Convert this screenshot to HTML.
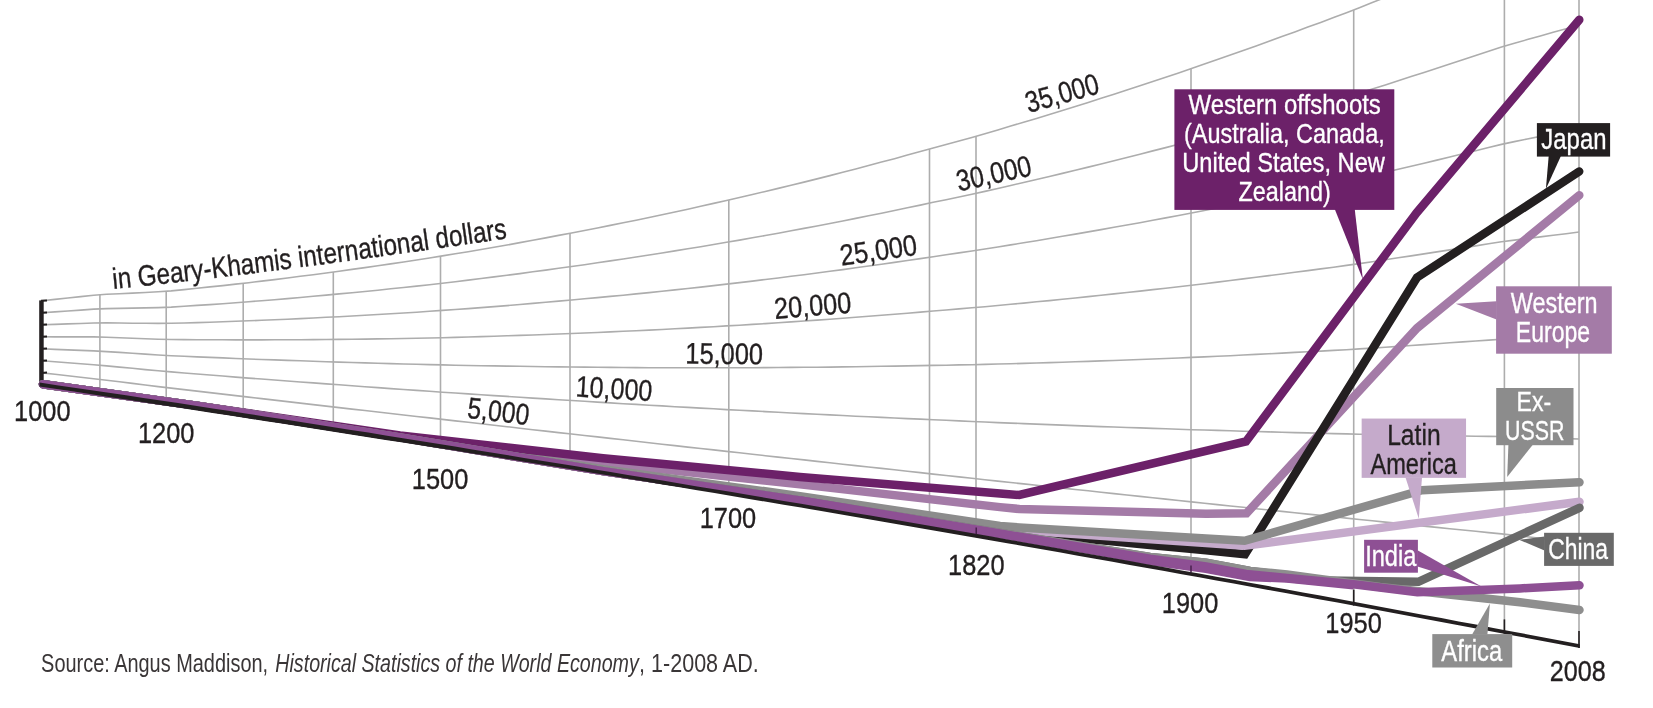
<!DOCTYPE html><html><head><meta charset="utf-8"><title>chart</title>
<style>html,body{margin:0;padding:0;background:#fff}svg{display:block;will-change:transform}text{font-family:"Liberation Sans",sans-serif}</style></head><body>
<svg width="1653" height="708" viewBox="0 0 1653 708">
<rect width="1653" height="708" fill="#fff"/>
<g fill="none" stroke="#ADADAD" stroke-width="1.6">
<polyline points="42.0,372.9 54.9,374.3 67.8,375.8 80.7,377.2 93.7,378.7 106.6,380.2 119.5,381.8 132.4,383.4 145.3,385.0 158.2,386.6 171.2,388.1 184.1,389.6 197.0,391.1 209.9,392.6 222.8,394.1 235.7,395.6 248.7,397.1 261.6,398.6 274.5,400.1 287.4,401.6 300.3,403.1 313.2,404.6 326.2,406.1 339.1,407.6 352.0,409.1 364.9,410.5 377.8,412.0 390.7,413.5 403.6,415.0 416.6,416.5 429.5,417.9 442.4,419.4 455.3,420.9 468.2,422.3 481.1,423.8 494.1,425.3 507.0,426.7 519.9,428.2 532.8,429.7 545.7,431.1 558.6,432.6 571.6,434.0 584.5,435.5 597.4,436.9 610.3,438.4 623.2,439.8 636.1,441.3 649.1,442.7 662.0,444.2 674.9,445.6 687.8,447.1 700.7,448.5 713.6,449.9 726.5,451.4 739.5,452.8 752.4,454.2 765.3,455.7 778.2,457.1 791.1,458.5 804.0,459.9 817.0,461.4 829.9,462.8 842.8,464.2 855.7,465.6 868.6,467.0 881.5,468.4 894.5,469.8 907.4,471.2 920.3,472.6 933.2,474.1 946.1,475.5 959.0,476.9 971.9,478.3 984.9,479.7 997.8,481.1 1010.7,482.5 1023.6,483.9 1036.5,485.3 1049.4,486.7 1062.4,488.1 1075.3,489.5 1088.2,490.8 1101.1,492.2 1114.0,493.6 1126.9,495.0 1139.9,496.4 1152.8,497.7 1165.7,499.1 1178.6,500.5 1191.5,501.9 1204.4,503.2 1217.4,504.6 1230.3,506.0 1243.2,507.3 1256.1,508.7 1269.0,510.0 1281.9,511.4 1294.8,512.7 1307.8,514.1 1320.7,515.4 1333.6,516.8 1346.5,518.1 1359.4,519.5 1372.3,520.8 1385.3,522.1 1398.2,523.4 1411.1,524.7 1424.0,526.1 1436.9,527.4 1449.8,528.7 1462.8,530.0 1475.7,531.3 1488.6,532.6 1501.5,533.9 1514.4,535.4 1527.3,536.8 1540.3,538.2 1553.2,539.7 1566.1,541.1 1579.0,542.6"/>
<polyline points="42.0,360.8 54.9,361.8 67.8,362.8 80.7,363.8 93.7,364.8 106.6,365.9 119.5,367.1 132.4,368.3 145.3,369.6 158.2,370.8 171.2,371.9 184.1,373.0 197.0,374.0 209.9,375.0 222.8,376.0 235.7,377.1 248.7,378.1 261.6,379.0 274.5,380.0 287.4,381.0 300.3,382.0 313.2,382.9 326.2,383.9 339.1,384.8 352.0,385.8 364.9,386.7 377.8,387.6 390.7,388.6 403.6,389.5 416.6,390.4 429.5,391.3 442.4,392.2 455.3,393.0 468.2,393.9 481.1,394.8 494.1,395.6 507.0,396.4 519.9,397.3 532.8,398.1 545.7,398.9 558.6,399.7 571.6,400.5 584.5,401.3 597.4,402.1 610.3,402.9 623.2,403.7 636.1,404.4 649.1,405.2 662.0,405.9 674.9,406.7 687.8,407.4 700.7,408.1 713.6,408.8 726.5,409.6 739.5,410.3 752.4,410.9 765.3,411.6 778.2,412.3 791.1,413.0 804.0,413.6 817.0,414.3 829.9,414.9 842.8,415.5 855.7,416.2 868.6,416.8 881.5,417.4 894.5,418.0 907.4,418.6 920.3,419.1 933.2,419.7 946.1,420.3 959.0,420.9 971.9,421.5 984.9,422.0 997.8,422.6 1010.7,423.1 1023.6,423.6 1036.5,424.1 1049.4,424.6 1062.4,425.1 1075.3,425.6 1088.2,426.1 1101.1,426.6 1114.0,427.0 1126.9,427.5 1139.9,427.9 1152.8,428.4 1165.7,428.8 1178.6,429.2 1191.5,429.7 1204.4,430.0 1217.4,430.4 1230.3,430.8 1243.2,431.2 1256.1,431.5 1269.0,431.9 1281.9,432.2 1294.8,432.6 1307.8,432.9 1320.7,433.3 1333.6,433.6 1346.5,433.9 1359.4,434.2 1372.3,434.4 1385.3,434.7 1398.2,434.9 1411.1,435.1 1424.0,435.3 1436.9,435.5 1449.8,435.8 1462.8,436.0 1475.7,436.2 1488.6,436.4 1501.5,436.5 1514.4,436.9 1527.3,437.4 1540.3,437.8 1553.2,438.2 1566.1,438.6 1579.0,439.0"/>
<polyline points="42.0,348.8 54.9,349.4 67.8,349.9 80.7,350.4 93.7,350.9 106.6,351.6 119.5,352.4 132.4,353.3 145.3,354.1 158.2,355.0 171.2,355.7 184.1,356.3 197.0,356.9 209.9,357.4 222.8,357.9 235.7,358.5 248.7,359.0 261.6,359.5 274.5,359.9 287.4,360.4 300.3,360.8 313.2,361.3 326.2,361.7 339.1,362.1 352.0,362.5 364.9,362.9 377.8,363.3 390.7,363.6 403.6,364.0 416.6,364.3 429.5,364.6 442.4,364.9 455.3,365.2 468.2,365.5 481.1,365.7 494.1,365.9 507.0,366.1 519.9,366.3 532.8,366.5 545.7,366.7 558.6,366.9 571.6,367.0 584.5,367.1 597.4,367.3 610.3,367.4 623.2,367.5 636.1,367.6 649.1,367.7 662.0,367.7 674.9,367.7 687.8,367.8 700.7,367.8 713.6,367.8 726.5,367.7 739.5,367.7 752.4,367.7 765.3,367.6 778.2,367.5 791.1,367.4 804.0,367.3 817.0,367.2 829.9,367.1 842.8,366.9 855.7,366.7 868.6,366.5 881.5,366.3 894.5,366.1 907.4,365.9 920.3,365.6 933.2,365.4 946.1,365.2 959.0,364.9 971.9,364.7 984.9,364.4 997.8,364.0 1010.7,363.7 1023.6,363.4 1036.5,363.0 1049.4,362.6 1062.4,362.2 1075.3,361.8 1088.2,361.4 1101.1,360.9 1114.0,360.5 1126.9,360.0 1139.9,359.5 1152.8,359.0 1165.7,358.5 1178.6,358.0 1191.5,357.4 1204.4,356.9 1217.4,356.3 1230.3,355.7 1243.2,355.0 1256.1,354.4 1269.0,353.8 1281.9,353.1 1294.8,352.4 1307.8,351.8 1320.7,351.1 1333.6,350.4 1346.5,349.7 1359.4,348.9 1372.3,348.1 1385.3,347.2 1398.2,346.4 1411.1,345.5 1424.0,344.6 1436.9,343.7 1449.8,342.8 1462.8,341.9 1475.7,341.0 1488.6,340.1 1501.5,339.2 1514.4,338.5 1527.3,337.9 1540.3,337.3 1553.2,336.7 1566.1,336.1 1579.0,335.5"/>
<polyline points="42.0,336.8 54.9,336.9 67.8,336.9 80.7,336.9 93.7,336.9 106.6,337.2 119.5,337.7 132.4,338.2 145.3,338.7 158.2,339.2 171.2,339.5 184.1,339.6 197.0,339.7 209.9,339.8 222.8,339.8 235.7,339.9 248.7,339.9 261.6,339.9 274.5,339.8 287.4,339.8 300.3,339.7 313.2,339.6 326.2,339.5 339.1,339.4 352.0,339.2 364.9,339.1 377.8,338.9 390.7,338.7 403.6,338.5 416.6,338.2 429.5,338.0 442.4,337.7 455.3,337.4 468.2,337.0 481.1,336.6 494.1,336.3 507.0,335.8 519.9,335.4 532.8,335.0 545.7,334.5 558.6,334.0 571.6,333.5 584.5,333.0 597.4,332.5 610.3,331.9 623.2,331.3 636.1,330.7 649.1,330.1 662.0,329.5 674.9,328.8 687.8,328.1 700.7,327.4 713.6,326.7 726.5,325.9 739.5,325.2 752.4,324.4 765.3,323.6 778.2,322.7 791.1,321.9 804.0,321.0 817.0,320.1 829.9,319.2 842.8,318.2 855.7,317.3 868.6,316.3 881.5,315.3 894.5,314.2 907.4,313.2 920.3,312.1 933.2,311.0 946.1,310.0 959.0,308.9 971.9,307.8 984.9,306.7 997.8,305.5 1010.7,304.3 1023.6,303.1 1036.5,301.8 1049.4,300.6 1062.4,299.3 1075.3,298.0 1088.2,296.6 1101.1,295.3 1114.0,293.9 1126.9,292.5 1139.9,291.1 1152.8,289.6 1165.7,288.2 1178.6,286.7 1191.5,285.2 1204.4,283.7 1217.4,282.1 1230.3,280.5 1243.2,278.9 1256.1,277.3 1269.0,275.6 1281.9,274.0 1294.8,272.3 1307.8,270.6 1320.7,268.9 1333.6,267.2 1346.5,265.4 1359.4,263.6 1372.3,261.7 1385.3,259.8 1398.2,257.8 1411.1,255.9 1424.0,253.9 1436.9,251.9 1449.8,249.9 1462.8,247.9 1475.7,245.9 1488.6,243.8 1501.5,241.8 1514.4,240.1 1527.3,238.5 1540.3,236.9 1553.2,235.3 1566.1,233.7 1579.0,232.0"/>
<polyline points="42.0,324.8 54.9,324.4 67.8,323.9 80.7,323.5 93.7,323.0 106.6,322.9 119.5,323.0 132.4,323.2 145.3,323.3 158.2,323.4 171.2,323.3 184.1,323.0 197.0,322.6 209.9,322.2 222.8,321.8 235.7,321.3 248.7,320.8 261.6,320.3 274.5,319.8 287.4,319.2 300.3,318.6 313.2,318.0 326.2,317.3 339.1,316.7 352.0,316.0 364.9,315.3 377.8,314.5 390.7,313.8 403.6,313.0 416.6,312.2 429.5,311.3 442.4,310.4 455.3,309.5 468.2,308.6 481.1,307.6 494.1,306.6 507.0,305.6 519.9,304.5 532.8,303.4 545.7,302.3 558.6,301.1 571.6,300.0 584.5,298.8 597.4,297.6 610.3,296.4 623.2,295.2 636.1,293.9 649.1,292.6 662.0,291.2 674.9,289.9 687.8,288.5 700.7,287.1 713.6,285.6 726.5,284.1 739.5,282.6 752.4,281.1 765.3,279.5 778.2,278.0 791.1,276.3 804.0,274.7 817.0,273.0 829.9,271.3 842.8,269.6 855.7,267.8 868.6,266.0 881.5,264.2 894.5,262.4 907.4,260.5 920.3,258.6 933.2,256.7 946.1,254.8 959.0,252.9 971.9,251.0 984.9,249.0 997.8,247.0 1010.7,244.9 1023.6,242.8 1036.5,240.7 1049.4,238.5 1062.4,236.3 1075.3,234.1 1088.2,231.9 1101.1,229.6 1114.0,227.3 1126.9,225.0 1139.9,222.7 1152.8,220.3 1165.7,217.9 1178.6,215.5 1191.5,213.0 1204.4,210.5 1217.4,207.9 1230.3,205.4 1243.2,202.8 1256.1,200.2 1269.0,197.5 1281.9,194.8 1294.8,192.2 1307.8,189.4 1320.7,186.7 1333.6,184.0 1346.5,181.2 1359.4,178.3 1372.3,175.3 1385.3,172.3 1398.2,169.3 1411.1,166.2 1424.0,163.2 1436.9,160.1 1449.8,157.0 1462.8,153.8 1475.7,150.7 1488.6,147.5 1501.5,144.4 1514.4,141.6 1527.3,139.0 1540.3,136.4 1553.2,133.8 1566.1,131.2 1579.0,128.5"/>
<polyline points="42.0,312.8 54.9,311.9 67.8,311.0 80.7,310.1 93.7,309.1 106.6,308.6 119.5,308.4 132.4,308.1 145.3,307.9 158.2,307.6 171.2,307.1 184.1,306.3 197.0,305.4 209.9,304.6 222.8,303.7 235.7,302.7 248.7,301.7 261.6,300.7 274.5,299.7 287.4,298.6 300.3,297.5 313.2,296.3 326.2,295.1 339.1,293.9 352.0,292.7 364.9,291.5 377.8,290.2 390.7,288.8 403.6,287.5 416.6,286.1 429.5,284.7 442.4,283.2 455.3,281.7 468.2,280.1 481.1,278.5 494.1,276.9 507.0,275.3 519.9,273.6 532.8,271.8 545.7,270.1 558.6,268.3 571.6,266.5 584.5,264.7 597.4,262.8 610.3,260.9 623.2,259.0 636.1,257.0 649.1,255.0 662.0,253.0 674.9,250.9 687.8,248.8 700.7,246.7 713.6,244.5 726.5,242.3 739.5,240.1 752.4,237.8 765.3,235.5 778.2,233.2 791.1,230.8 804.0,228.4 817.0,226.0 829.9,223.5 842.8,221.0 855.7,218.4 868.6,215.8 881.5,213.2 894.5,210.5 907.4,207.8 920.3,205.1 933.2,202.3 946.1,199.7 959.0,197.0 971.9,194.2 984.9,191.4 997.8,188.5 1010.7,185.5 1023.6,182.5 1036.5,179.5 1049.4,176.5 1062.4,173.4 1075.3,170.3 1088.2,167.1 1101.1,164.0 1114.0,160.7 1126.9,157.5 1139.9,154.2 1152.8,150.9 1165.7,147.6 1178.6,144.2 1191.5,140.8 1204.4,137.3 1217.4,133.8 1230.3,130.2 1243.2,126.6 1256.1,123.0 1269.0,119.4 1281.9,115.7 1294.8,112.0 1307.8,108.3 1320.7,104.5 1333.6,100.8 1346.5,96.9 1359.4,93.0 1372.3,89.0 1385.3,84.9 1398.2,80.7 1411.1,76.6 1424.0,72.4 1436.9,68.2 1449.8,64.0 1462.8,59.8 1475.7,55.5 1488.6,51.3 1501.5,47.0 1514.4,43.2 1527.3,39.6 1540.3,36.0 1553.2,32.3 1566.1,28.7 1579.0,25.0"/>
<polyline points="42.0,300.8 54.9,299.4 67.8,298.0 80.7,296.6 93.7,295.2 106.6,294.2 119.5,293.7 132.4,293.1 145.3,292.5 158.2,291.8 171.2,290.9 184.1,289.6 197.0,288.3 209.9,286.9 222.8,285.6 235.7,284.1 248.7,282.7 261.6,281.1 274.5,279.6 287.4,278.0 300.3,276.3 313.2,274.7 326.2,273.0 339.1,271.2 352.0,269.4 364.9,267.6 377.8,265.8 390.7,263.9 403.6,262.0 416.6,260.0 429.5,258.0 442.4,255.9 455.3,253.8 468.2,251.7 481.1,249.5 494.1,247.2 507.0,245.0 519.9,242.6 532.8,240.3 545.7,237.9 558.6,235.4 571.6,233.0 584.5,230.5 597.4,228.0 610.3,225.4 623.2,222.8 636.1,220.2 649.1,217.5 662.0,214.8 674.9,212.0 687.8,209.2 700.7,206.3 713.6,203.4 726.5,200.5 739.5,197.5 752.4,194.5 765.3,191.5 778.2,188.4 791.1,185.3 804.0,182.1 817.0,178.9 829.9,175.6 842.8,172.3 855.7,169.0 868.6,165.6 881.5,162.1 894.5,158.7 907.4,155.1 920.3,151.6 933.2,148.0 946.1,144.5 959.0,141.0 971.9,137.4 984.9,133.7 997.8,129.9 1010.7,126.1 1023.6,122.3 1036.5,118.4 1049.4,114.4 1062.4,110.5 1075.3,106.4 1088.2,102.4 1101.1,98.3 1114.0,94.2 1126.9,90.0 1139.9,85.8 1152.8,81.5 1165.7,77.3 1178.6,72.9 1191.5,68.6 1204.4,64.1 1217.4,59.6 1230.3,55.1 1243.2,50.5 1256.1,45.9 1269.0,41.3 1281.9,36.6 1294.8,31.9 1307.8,27.1 1320.7,22.4 1333.6,17.5 1346.5,12.7 1359.4,7.7 1372.3,2.6 1385.3,-2.6 1398.2,-7.8 1411.1,-13.0 1424.0,-18.3 1436.9,-23.6 1449.8,-28.9 1462.8,-34.2 1475.7,-39.6 1488.6,-45.0 1501.5,-50.4 1514.4,-55.2 1527.3,-59.8 1540.3,-64.5 1553.2,-69.1 1566.1,-73.8 1579.0,-78.5"/>
<line x1="99.9" y1="294.5" x2="99.9" y2="393.5"/>
<line x1="166.2" y1="291.4" x2="166.2" y2="403.6"/>
<line x1="243.2" y1="283.3" x2="243.2" y2="415.4"/>
<line x1="333.3" y1="272.0" x2="333.3" y2="429.4"/>
<line x1="440.5" y1="256.2" x2="440.5" y2="446.4"/>
<line x1="570.0" y1="233.2" x2="570.0" y2="467.3"/>
<line x1="728.8" y1="200.0" x2="728.8" y2="493.5"/>
<line x1="929.5" y1="149.0" x2="929.5" y2="527.8"/>
<line x1="976.0" y1="136.2" x2="976.0" y2="535.8"/>
<line x1="1191.0" y1="68.8" x2="1191.0" y2="574.0"/>
<line x1="1353.7" y1="10.0" x2="1353.7" y2="603.7"/>
<line x1="1504.4" y1="-5.0" x2="1504.4" y2="631.9"/>
<line x1="1579.0" y1="-5.0" x2="1579.0" y2="646.1"/>
</g>
<line x1="41.45" y1="300.4" x2="41.45" y2="386" stroke="#231F20" stroke-width="4.5"/>
<line x1="41" y1="372.9" x2="47" y2="372.6" stroke="#231F20" stroke-width="2"/>
<line x1="41" y1="360.8" x2="47" y2="360.5" stroke="#231F20" stroke-width="2"/>
<line x1="41" y1="348.8" x2="47" y2="348.5" stroke="#231F20" stroke-width="2"/>
<line x1="41" y1="336.8" x2="47" y2="336.5" stroke="#231F20" stroke-width="2"/>
<line x1="41" y1="324.8" x2="47" y2="324.5" stroke="#231F20" stroke-width="2"/>
<line x1="41" y1="312.8" x2="47" y2="312.5" stroke="#231F20" stroke-width="2"/>
<line x1="41" y1="300.8" x2="47" y2="300.4" stroke="#231F20" stroke-width="2"/>
<polyline points="43.0,384.2 200.0,406.1 400.0,437.4 603.0,462.7 800.0,484.4 1000.0,507.1 1019.3,509.0 1206.0,513.7 1246.6,513.2 1417.0,328.2 1579.3,195.3" fill="none" stroke="#A47BA7" stroke-width="8.5" stroke-linecap="round" stroke-linejoin="miter" stroke-miterlimit="10"/>
<polyline points="43.0,384.2 200.0,406.1 400.0,437.4 603.0,471.1 800.0,500.4 1000.0,531.0 1053.0,535.5 1150.0,545.0 1206.0,550.3 1245.0,554.3 1417.0,277.5 1579.2,171.5" fill="none" stroke="#231F20" stroke-width="8.5" stroke-linecap="round" stroke-linejoin="miter" stroke-miterlimit="10"/>
<polyline points="43.0,384.2 200.0,406.1 400.0,437.4 603.0,471.1 800.0,500.4 1000.0,529.0 1100.0,535.8 1206.0,543.0 1244.5,545.8 1579.5,501.8" fill="none" stroke="#C5AACB" stroke-width="8.5" stroke-linecap="round" stroke-linejoin="miter" stroke-miterlimit="10"/>
<polyline points="43.0,384.2 200.0,406.1 400.0,437.4 603.0,469.2 800.0,496.1 1000.0,526.0 1019.3,527.4 1206.0,538.6 1244.5,540.8 1422.0,490.2 1579.5,482.3" fill="none" stroke="#8C8C8C" stroke-width="8.5" stroke-linecap="round" stroke-linejoin="miter" stroke-miterlimit="10"/>
<polyline points="43.0,384.2 200.0,406.1 400.0,435.5 603.0,458.2 800.0,476.9 1000.0,493.4 1019.3,495.0 1246.0,441.5 1416.5,213.0 1579.3,19.8" fill="none" stroke="#6C2169" stroke-width="8.5" stroke-linecap="round" stroke-linejoin="miter" stroke-miterlimit="10"/>
<polyline points="43.0,384.2 200.0,406.1 400.0,437.4 603.0,471.1 800.0,500.4 1000.0,533.0 1150.0,556.9 1206.0,562.8 1250.0,571.0 1287.0,575.5 1323.5,580.6 1418.4,581.8 1579.5,507.8" fill="none" stroke="#696969" stroke-width="8.5" stroke-linecap="round" stroke-linejoin="miter" stroke-miterlimit="10"/>
<polyline points="43.0,384.2 200.0,406.1 400.0,437.4 603.0,471.1 800.0,500.4 1000.0,533.0 1150.0,556.9 1206.0,562.8 1250.0,571.0 1287.0,574.5 1323.5,579.5 1380.0,587.0 1520.0,602.2 1579.5,610.0" fill="none" stroke="#8E8E8E" stroke-width="8.5" stroke-linecap="round" stroke-linejoin="miter" stroke-miterlimit="10"/>
<polyline points="800.0,500.4 1000.0,534.4 1100.0,551.9 1150.0,561.0 1206.0,568.8 1250.0,577.0 1287.0,578.5 1353.5,585.2" fill="none" stroke="#8E5094" stroke-width="8.5" stroke-linecap="butt" stroke-linejoin="miter" stroke-miterlimit="10"/>
<polyline points="43.0,384.2 200.0,406.1 400.0,437.4 603.0,471.1 800.0,500.4 1000.0,533.5 1100.0,550.2 1150.0,558.6 1206.0,566.4 1246.0,574.0 1287.0,578.0 1353.5,584.3 1417.3,592.3 1520.0,588.4 1579.5,585.3" fill="none" stroke="#8E5094" stroke-width="8.5" stroke-linecap="round" stroke-linejoin="miter" stroke-miterlimit="10"/>
<polygon points="39.5,382.6 56.8,385.2 74.1,387.7 91.4,390.3 108.7,392.8 126.0,395.3 143.3,397.9 160.6,400.5 178.0,403.1 195.3,405.7 212.6,408.4 229.9,411.0 247.2,413.7 264.5,416.4 281.8,419.0 299.1,421.7 316.4,424.4 333.7,427.2 351.0,429.9 368.3,432.6 385.6,435.4 402.9,438.2 420.2,441.0 437.6,443.8 454.9,446.6 472.2,449.5 489.5,452.3 506.8,455.1 524.1,457.9 541.4,460.7 558.7,463.5 576.0,466.3 593.3,469.2 610.6,472.0 627.9,474.9 645.2,477.7 662.5,480.6 679.8,483.5 697.2,486.4 714.5,489.2 731.8,492.1 749.1,495.1 766.4,498.0 783.7,500.9 801.0,503.8 818.3,506.8 835.6,509.7 852.9,512.7 870.2,515.6 887.5,518.6 904.8,521.6 922.1,524.6 939.5,527.6 956.8,530.6 974.1,533.6 991.4,536.6 1008.7,539.7 1026.0,542.7 1043.3,545.7 1060.6,548.8 1077.9,551.9 1095.2,554.9 1112.5,558.0 1129.8,561.1 1147.1,564.2 1164.4,567.3 1181.7,570.4 1199.1,573.5 1216.4,576.7 1233.7,579.8 1251.0,583.0 1268.3,586.1 1285.6,589.3 1302.9,592.5 1320.2,595.6 1337.5,598.8 1354.8,602.0 1372.1,605.2 1389.4,608.4 1406.7,611.7 1424.0,614.9 1441.3,618.1 1458.7,621.4 1476.0,624.6 1493.3,627.9 1510.6,631.2 1527.9,634.4 1545.2,637.7 1562.5,641.0 1579.8,644.3 1579.8,648.1 1562.5,644.8 1545.2,641.5 1527.9,638.2 1510.6,635.0 1493.3,631.7 1476.0,628.4 1458.7,625.2 1441.3,621.9 1424.0,618.7 1406.7,615.5 1389.4,612.2 1372.1,609.0 1354.8,605.8 1337.5,602.6 1320.2,599.4 1302.9,596.3 1285.6,593.1 1268.3,589.9 1251.0,586.8 1233.7,583.6 1216.4,580.5 1199.1,577.3 1181.7,574.2 1164.4,571.1 1147.1,568.0 1129.8,564.9 1112.5,561.8 1095.2,558.7 1077.9,555.7 1060.6,552.6 1043.3,549.5 1026.0,546.5 1008.7,543.5 991.4,540.4 974.1,537.4 956.8,534.4 939.5,531.4 922.1,528.4 904.8,525.4 887.5,522.4 870.2,519.4 852.9,516.5 835.6,513.5 818.3,510.6 801.0,507.6 783.7,504.7 766.4,501.8 749.1,498.9 731.8,495.9 714.5,493.0 697.2,490.2 679.8,487.3 662.5,484.4 645.2,481.5 627.9,478.7 610.6,475.8 593.3,473.0 576.0,470.1 558.7,467.3 541.4,464.5 524.1,461.7 506.8,458.9 489.5,456.1 472.2,453.4 454.9,450.6 437.6,447.9 420.2,445.2 402.9,442.5 385.6,439.9 368.3,437.2 351.0,434.4 333.7,431.7 316.4,429.0 299.1,426.3 281.8,423.6 264.5,421.0 247.2,418.3 229.9,415.6 212.6,413.0 195.3,410.3 178.0,407.6 160.6,405.0 143.3,402.3 126.0,399.6 108.7,397.0 91.4,394.3 74.1,391.6 56.8,389.0 39.5,386.4" fill="#231F20"/>
<line x1="1353.7" y1="605.6" x2="1353.7" y2="589.7" stroke="#231F20" stroke-width="1.6"/>
<line x1="1504.4" y1="633.8" x2="1504.4" y2="619.4" stroke="#231F20" stroke-width="1.6"/>
<line x1="1579.0" y1="648.0" x2="1579.0" y2="631.1" stroke="#231F20" stroke-width="1.6"/>
<line x1="976.2" y1="534.4" x2="976.2" y2="527.4" stroke="#3E1A42" stroke-width="1.3"/>
<line x1="1191.0" y1="572.5" x2="1191.0" y2="565.5" stroke="#3E1A42" stroke-width="1.3"/>
<text x="14.07" y="420.80" font-size="29.8" fill="#231F20" stroke="#231F20" stroke-width="0.35" textLength="56.51" lengthAdjust="spacingAndGlyphs">1000</text>
<text x="137.97" y="442.80" font-size="29.8" fill="#231F20" stroke="#231F20" stroke-width="0.35" textLength="56.51" lengthAdjust="spacingAndGlyphs">1200</text>
<text x="411.77" y="488.50" font-size="29.8" fill="#231F20" stroke="#231F20" stroke-width="0.35" textLength="56.51" lengthAdjust="spacingAndGlyphs">1500</text>
<text x="699.67" y="528.40" font-size="29.8" fill="#231F20" stroke="#231F20" stroke-width="0.35" textLength="56.51" lengthAdjust="spacingAndGlyphs">1700</text>
<text x="948.07" y="574.70" font-size="29.8" fill="#231F20" stroke="#231F20" stroke-width="0.35" textLength="56.51" lengthAdjust="spacingAndGlyphs">1820</text>
<text x="1161.87" y="612.70" font-size="29.8" fill="#231F20" stroke="#231F20" stroke-width="0.35" textLength="56.51" lengthAdjust="spacingAndGlyphs">1900</text>
<text x="1325.27" y="633.20" font-size="29.8" fill="#231F20" stroke="#231F20" stroke-width="0.35" textLength="56.51" lengthAdjust="spacingAndGlyphs">1950</text>
<text x="1549.74" y="680.70" font-size="29.8" fill="#231F20" stroke="#231F20" stroke-width="0.35" textLength="55.95" lengthAdjust="spacingAndGlyphs">2008</text>
<text x="466.61" y="417.90" font-size="29.8" fill="#231F20" stroke="#231F20" stroke-width="0.35" textLength="61.94" lengthAdjust="spacingAndGlyphs" transform="rotate(6.70 467.6 417.9)">5,000</text>
<text x="575.19" y="396.50" font-size="29.8" fill="#231F20" stroke="#231F20" stroke-width="0.35" textLength="76.67" lengthAdjust="spacingAndGlyphs" transform="rotate(3.60 577.1 396.5)">10,000</text>
<text x="685.27" y="363.60" font-size="29.8" fill="#231F20" stroke="#231F20" stroke-width="0.35" textLength="77.71" lengthAdjust="spacingAndGlyphs" transform="rotate(0.60 687.2 363.6)">15,000</text>
<text x="774.94" y="318.90" font-size="29.8" fill="#231F20" stroke="#231F20" stroke-width="0.35" textLength="77.24" lengthAdjust="spacingAndGlyphs" transform="rotate(-4.80 776.2 318.9)">20,000</text>
<text x="841.53" y="265.60" font-size="29.8" fill="#231F20" stroke="#231F20" stroke-width="0.35" textLength="77.55" lengthAdjust="spacingAndGlyphs" transform="rotate(-8.20 842.8 265.6)">25,000</text>
<text x="958.75" y="191.20" font-size="29.8" fill="#231F20" stroke="#231F20" stroke-width="0.35" textLength="76.11" lengthAdjust="spacingAndGlyphs" transform="rotate(-12.30 959.7 191.2)">30,000</text>
<text x="1028.47" y="112.70" font-size="29.8" fill="#231F20" stroke="#231F20" stroke-width="0.35" textLength="75.08" lengthAdjust="spacingAndGlyphs" transform="rotate(-15.50 1029.4 112.7)">35,000</text>
<g font-size="29.5" fill="#231F20" stroke="#231F20" stroke-width="0.35" text-anchor="middle">
<text transform="translate(115.99 288.70) rotate(-5.50) scale(0.8216 1)">i</text>
<text transform="translate(125.38 287.78) rotate(-5.67) scale(0.8216 1)">n</text>
<text transform="translate(148.16 285.44) rotate(-6.03) scale(0.8216 1)">G</text>
<text transform="translate(164.23 283.71) rotate(-6.25) scale(0.8216 1)">e</text>
<text transform="translate(177.63 282.23) rotate(-6.41) scale(0.8216 1)">a</text>
<text transform="translate(188.33 281.01) rotate(-6.53) scale(0.8216 1)">r</text>
<text transform="translate(198.36 279.86) rotate(-6.64) scale(0.8216 1)">y</text>
<text transform="translate(208.39 278.68) rotate(-6.74) scale(0.8216 1)">-</text>
<text transform="translate(220.42 277.25) rotate(-6.85) scale(0.8216 1)">K</text>
<text transform="translate(235.14 275.46) rotate(-6.97) scale(0.8216 1)">h</text>
<text transform="translate(248.52 273.82) rotate(-7.08) scale(0.8216 1)">a</text>
<text transform="translate(265.22 271.72) rotate(-7.20) scale(0.8216 1)">m</text>
<text transform="translate(277.91 270.11) rotate(-7.29) scale(0.8216 1)">i</text>
<text transform="translate(286.59 268.99) rotate(-7.35) scale(0.8216 1)">s</text>
<text transform="translate(301.94 267.00) rotate(-7.44) scale(0.8216 1)">i</text>
<text transform="translate(311.30 265.77) rotate(-7.50) scale(0.8216 1)">n</text>
<text transform="translate(321.32 264.45) rotate(-7.56) scale(0.8216 1)">t</text>
<text transform="translate(331.34 263.11) rotate(-7.61) scale(0.8216 1)">e</text>
<text transform="translate(342.02 261.68) rotate(-7.67) scale(0.8216 1)">r</text>
<text transform="translate(352.69 260.24) rotate(-7.72) scale(0.8216 1)">n</text>
<text transform="translate(366.05 258.42) rotate(-7.79) scale(0.8216 1)">a</text>
<text transform="translate(376.06 257.05) rotate(-7.83) scale(0.8216 1)">t</text>
<text transform="translate(382.07 256.22) rotate(-7.86) scale(0.8216 1)">i</text>
<text transform="translate(391.41 254.93) rotate(-7.90) scale(0.8216 1)">o</text>
<text transform="translate(404.76 253.07) rotate(-7.95) scale(0.8216 1)">n</text>
<text transform="translate(418.11 251.20) rotate(-8.01) scale(0.8216 1)">a</text>
<text transform="translate(427.45 249.88) rotate(-8.04) scale(0.8216 1)">l</text>
<text transform="translate(443.46 247.61) rotate(-8.10) scale(0.8216 1)">d</text>
<text transform="translate(456.80 245.70) rotate(-8.15) scale(0.8216 1)">o</text>
<text transform="translate(466.14 244.36) rotate(-8.18) scale(0.8216 1)">l</text>
<text transform="translate(471.47 243.60) rotate(-8.20) scale(0.8216 1)">l</text>
<text transform="translate(480.80 242.25) rotate(-8.23) scale(0.8216 1)">a</text>
<text transform="translate(491.47 240.70) rotate(-8.26) scale(0.8216 1)">r</text>
<text transform="translate(501.46 239.25) rotate(-8.29) scale(0.8216 1)">s</text>
</g>
<text x="41.10" y="672.40" font-size="25" fill="#3a3637" textLength="226.99" lengthAdjust="spacingAndGlyphs">Source: Angus Maddison,</text>
<text x="275.31" y="672.40" font-size="25" fill="#3a3637" textLength="363.49" lengthAdjust="spacingAndGlyphs" font-style="italic">Historical Statistics of the World Economy</text>
<text x="639.08" y="672.40" font-size="25" fill="#3a3637" textLength="119.68" lengthAdjust="spacingAndGlyphs">, 1-2008 AD.</text>
<rect x="1174.4" y="89.3" width="219.9" height="120.6" fill="#6C2169"/>
<polygon points="1334.7,209 1354.7,209 1362.9,279.6" fill="#6C2169"/>
<text x="1188.60" y="113.55" font-size="28.3" fill="#fff" stroke="#fff" stroke-width="0.35" textLength="192.26" lengthAdjust="spacingAndGlyphs">Western offshoots</text>
<text x="1183.95" y="142.80" font-size="28.3" fill="#fff" stroke="#fff" stroke-width="0.35" textLength="200.77" lengthAdjust="spacingAndGlyphs">(Australia, Canada,</text>
<text x="1182.18" y="172.35" font-size="28.3" fill="#fff" stroke="#fff" stroke-width="0.35" textLength="202.77" lengthAdjust="spacingAndGlyphs">United States, New</text>
<text x="1238.58" y="201.00" font-size="28.3" fill="#fff" stroke="#fff" stroke-width="0.35" textLength="92.27" lengthAdjust="spacingAndGlyphs">Zealand)</text>
<rect x="1536.9" y="123.1" width="73.2" height="33.5" fill="#231F20"/>
<polygon points="1548.7,156 1560.9,156 1545.9,189" fill="#231F20"/>
<text x="1541.34" y="148.90" font-size="29.3" fill="#fff" stroke="#fff" stroke-width="0.35" textLength="65.21" lengthAdjust="spacingAndGlyphs">Japan</text>
<rect x="1496.1" y="286.3" width="115.7" height="67.4" fill="#A47BA7"/>
<polygon points="1496.5,301.25 1496.5,319.5 1455.8,303.7" fill="#A47BA7"/>
<text x="1510.71" y="313.00" font-size="29.3" fill="#fff" stroke="#fff" stroke-width="0.35" textLength="86.80" lengthAdjust="spacingAndGlyphs">Western</text>
<text x="1515.81" y="342.30" font-size="29.3" fill="#fff" stroke="#fff" stroke-width="0.35" textLength="74.32" lengthAdjust="spacingAndGlyphs">Europe</text>
<rect x="1361.65" y="418.55" width="104.4" height="59.3" fill="#C5AACB"/>
<polygon points="1405.5,477.5 1422,477.5 1418.8,518.7" fill="#C5AACB"/>
<text x="1387.18" y="444.60" font-size="28.6" fill="#231F20" stroke="#231F20" stroke-width="0.35" textLength="53.41" lengthAdjust="spacingAndGlyphs">Latin</text>
<text x="1370.45" y="473.80" font-size="28.6" fill="#231F20" stroke="#231F20" stroke-width="0.35" textLength="86.54" lengthAdjust="spacingAndGlyphs">America</text>
<rect x="1496.2" y="388" width="77.3" height="57.2" fill="#8C8C8C"/>
<polygon points="1508.4,445 1532.6,445 1507.2,477" fill="#8C8C8C"/>
<text x="1516.50" y="411.10" font-size="28.3" fill="#fff" stroke="#fff" stroke-width="0.35" textLength="34.72" lengthAdjust="spacingAndGlyphs">Ex-</text>
<text x="1505.10" y="439.95" font-size="28.3" fill="#fff" stroke="#fff" stroke-width="0.35" textLength="59.39" lengthAdjust="spacingAndGlyphs">USSR</text>
<rect x="1364.1" y="539.8" width="53.8" height="32.9" fill="#8E5094"/>
<polygon points="1417.5,550.2 1417.5,566.6 1481.5,586.6" fill="#8E5094"/>
<rect x="1544.1" y="532.8" width="69.7" height="33.1" fill="#696969"/>
<polygon points="1544.5,536.6 1544.5,550.4 1519.1,539.8" fill="#696969"/>
<rect x="1432.3" y="634.1" width="79.9" height="33.4" fill="#8E8E8E"/>
<polygon points="1472.1,634.5 1487.4,634.5 1489.9,603.4" fill="#8E8E8E"/>
<text x="1365.13" y="565.70" font-size="29.2" fill="#fff" stroke="#fff" stroke-width="0.35" textLength="51.26" lengthAdjust="spacingAndGlyphs">India</text>
<text x="1548.26" y="558.90" font-size="29.2" fill="#fff" stroke="#fff" stroke-width="0.35" textLength="59.82" lengthAdjust="spacingAndGlyphs">China</text>
<text x="1441.35" y="660.55" font-size="29.2" fill="#fff" stroke="#fff" stroke-width="0.35" textLength="60.83" lengthAdjust="spacingAndGlyphs">Africa</text>
</svg></body></html>
